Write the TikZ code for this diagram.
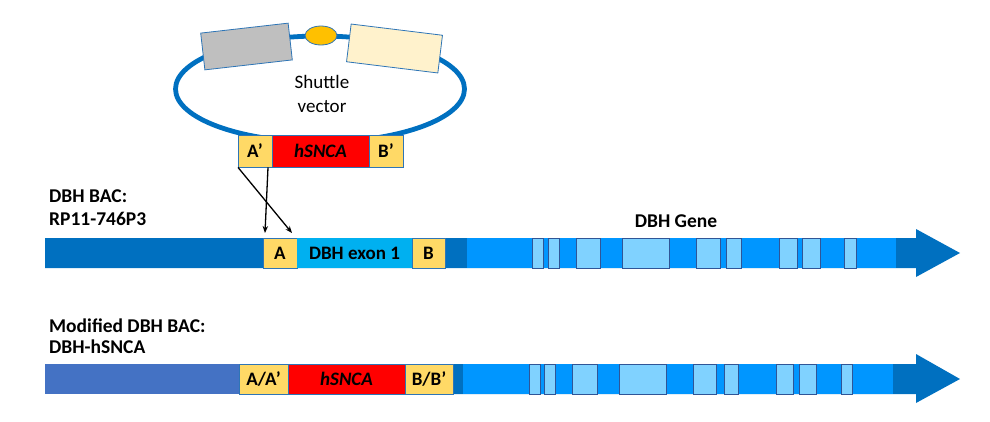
\documentclass[tikz,border=0pt]{standalone}
\usepackage{fontspec}
\setmainfont{Carlito}
\usetikzlibrary{arrows.meta,shapes.geometric}
\definecolor{dkblue}{RGB}{0,112,192}
\definecolor{brblue}{RGB}{0,150,255}
\definecolor{exblue}{RGB}{128,210,255}
\definecolor{cyanblue}{RGB}{0,176,240}
\definecolor{medblue}{RGB}{68,114,196}
\definecolor{ylw}{RGB}{255,217,102}
\definecolor{edgeblue}{RGB}{46,117,182}
\definecolor{exedge}{RGB}{47,85,151}
\definecolor{cream}{RGB}{255,242,204}
\definecolor{grayb}{RGB}{191,191,191}
\definecolor{orng}{RGB}{255,192,0}
\definecolor{redb}{RGB}{255,0,0}
\begin{document}
\begin{tikzpicture}[x=1pt,y=-1pt,
  boxtext/.style={font=\fontsize{19}{22}\selectfont\bfseries},
  lbl/.style={font=\fontsize{19.5}{22}\selectfont\bfseries, anchor=base west, inner sep=0pt},
  seg/.style={inner sep=0pt, minimum height=30pt, draw=none},
  ybox/.style={seg, fill=ylw, draw=edgeblue, line width=0.8pt, boxtext},
  rbox/.style={seg, fill=redb, draw=edgeblue, line width=0.8pt, boxtext},
  exon/.style={seg, fill=exblue, draw=exedge, line width=0.8pt},
  conn/.style={draw=black, line width=1.3pt, -{Stealth[length=7pt,width=5.5pt]}},
]
\useasboundingbox (0,0) rectangle (990,421);

% ---------------- shuttle vector ----------------
\draw[dkblue, line width=4.8pt] (320,89) ellipse [x radius=144.5pt, y radius=53pt];
\node[draw=edgeblue, fill=grayb, line width=0.8pt, minimum width=88pt, minimum height=37pt, inner sep=0pt, rotate=6.5] (grayblk) at (246.5,46.5) {};
\node[draw=edgeblue, fill=cream, line width=0.8pt, minimum width=92pt, minimum height=38pt, inner sep=0pt, rotate=-7] (creamblk) at (394.5,48.5) {};
\node[ellipse, draw=edgeblue, fill=orng, line width=0.8pt, minimum width=32pt, minimum height=19pt, inner sep=0pt] (ori) at (321,35.5) {};
\node[font=\fontsize{19}{22}\selectfont, anchor=base, inner sep=0pt] (sv1) at (322,88) {Shuttle};
\node[font=\fontsize{19}{22}\selectfont, anchor=base, inner sep=0pt] (sv2) at (322,112) {vector};
\node[ybox, minimum height=32pt, minimum width=34pt] (Ap) at (255,151) {A’};
\node[rbox, minimum height=32pt, minimum width=97pt] (Sp) at (320.5,151) {\itshape hSNCA};
\node[ybox, minimum height=32pt, minimum width=34pt] (Bp) at (386,151) {B’};

% ---------------- row 1: DBH BAC ----------------
\node[lbl] (l1a) at (49,202) {DBH BAC:};
\node[lbl] (l1b) at (49,225) {RP11-746P3};
\node[font=\fontsize{19.5}{22}\selectfont\bfseries, anchor=base, inner sep=0pt] (gene) at (676,227) {DBH Gene};
\fill[dkblue] (45,238) -- (916,238) -- (916,229) -- (960,253) -- (916,277) -- (916,268) -- (45,268) -- cycle;
\node[ybox, minimum width=34pt] (A) at (280,253) {A};
\node[seg, fill=cyanblue, minimum width=115pt, boxtext] (ex1) at (354.5,253) {DBH exon 1};
\node[ybox, minimum width=33pt] (B) at (428.5,253) {B};
\node[seg, fill=brblue, minimum width=429pt] (br1) at (681.5,253) {};
\foreach \a/\b [count=\i] in {532/543,548/559,576/600,622/669,696/720,726/741,779/797,802/820,844/856}
  \node[exon, minimum width={(\b-\a)*1pt}] (ea\i) at ({(\a+\b)/2},253) {};

% connectors
\coordinate (tA1) at (292,233);
\coordinate (tA2) at (265,233);
\draw[conn] ([xshift=-17pt]Ap.south) -- (tA1);
\draw[conn] ([xshift=13pt]Ap.south) -- (tA2);

% ---------------- row 2: modified BAC ----------------
\node[lbl] (l2a) at (49,332) {Modified DBH BAC:};
\node[lbl] (l2b) at (49,353) {DBH-hSNCA};
\fill[dkblue] (453,364) -- (916,364) -- (916,354) -- (960,379) -- (916,403) -- (916,394) -- (453,394) -- cycle;
\node[seg, fill=medblue, minimum width=194pt] (mb) at (142,379) {};
\node[ybox, minimum width=49pt] (AA) at (263.5,379) {A/A’};
\node[rbox, minimum width=117pt] (S2) at (346.5,379) {\itshape hSNCA};
\node[ybox, minimum width=48pt] (BB) at (429,379) {B/B’};
\node[seg, fill=brblue, minimum width=430pt] (br2) at (678,379) {};
\foreach \a/\b [count=\i] in {529/540,544/555,572/597,619/666,693/716,724/738,776/793,799/816,841/852}
  \node[exon, minimum width={(\b-\a)*1pt}] (eb\i) at ({(\a+\b)/2},379) {};
\end{tikzpicture}
\end{document}
